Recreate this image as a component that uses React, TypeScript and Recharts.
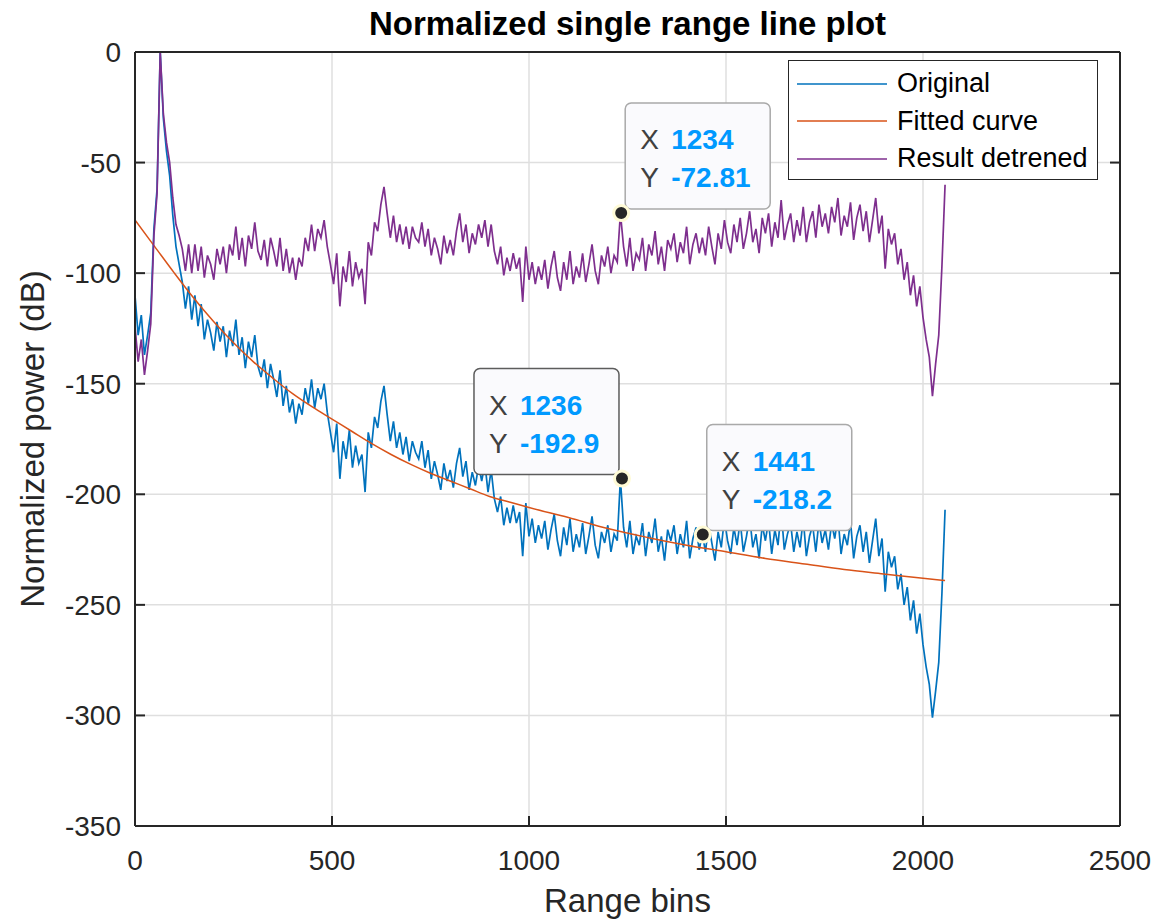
import React from 'react'
import {
  LineChart, Line, XAxis, YAxis, CartesianGrid, ReferenceDot, Legend,
} from 'recharts'

const FONT = "'Liberation Sans', Arial, Helvetica, sans-serif"
const INK = '#262626'

// one sample every 8 range bins, 0 … 2056
const BIN_STEP = 8

const originalDb = [
  -110, -128, -119, -137, -128, -118, -80, -62, 0, -30,
  -45, -56, -74, -88, -96, -104, -116, -106, -121, -110,
  -124, -114, -130, -121, -127, -135, -122, -131, -124, -138,
  -126, -133, -121, -137, -129, -143, -131, -138, -128, -142,
  -147, -139, -152, -141, -148, -156, -144, -160, -151, -163,
  -157, -168, -159, -164, -152, -159, -148, -161, -152, -157,
  -150, -163, -172, -181, -168, -193, -176, -184, -171, -188,
  -178, -186, -182, -199, -172, -179, -165, -170, -158, -151,
  -164, -176, -167, -179, -172, -182, -174, -185, -176, -181,
  -184, -176, -188, -180, -193, -185, -191, -198, -186, -194,
  -189, -197, -186, -179, -192, -185, -198, -190, -196, -187,
  -194, -186, -199, -189, -202, -208, -201, -214, -206, -213,
  -205, -213, -208, -228, -204, -219, -211, -222, -214, -220,
  -212, -225, -216, -209, -221, -228, -215, -223, -211, -226,
  -218, -224, -213, -227, -219, -210, -223, -229, -217, -222,
  -214, -226, -218, -221, -192.9, -215, -224, -212, -227, -219,
  -223, -213, -228, -217, -222, -211, -226, -219, -230, -216,
  -221, -214, -227, -218, -224, -212, -229, -220, -215, -225,
  -218.2, -226, -213, -222, -230, -217, -224, -211, -221, -227,
  -215, -223, -212, -226, -219, -210, -224, -218, -229, -214,
  -221, -212, -227, -216, -223, -207, -225, -218, -213, -226,
  -217, -224, -211, -228, -219, -214, -226, -212, -222, -216,
  -225, -213, -220, -210, -227, -218, -223, -212, -229, -219,
  -214, -226, -217, -231, -221, -211, -228, -220, -244, -226,
  -233, -228, -243, -236, -250, -242, -257, -248, -263, -254,
  -268, -278, -286, -301, -289, -276, -245, -207,
]

const detrendedDb = [
  -124, -140, -130, -146, -135, -123, -83, -64, 0, -28,
  -41, -50, -66, -78, -83, -89, -99, -87, -100, -87,
  -99, -88, -102, -92, -96, -103, -89, -96, -88, -100,
  -87, -92, -79, -94, -84, -97, -83, -89, -77, -90,
  -94, -85, -97, -84, -90, -97, -84, -99, -89, -100,
  -93, -103, -93, -97, -84, -90, -78, -90, -80, -84,
  -76, -88, -96, -105, -91, -115, -97, -104, -90, -106,
  -95, -102, -98, -114, -86, -92, -77, -81, -69, -61,
  -73, -84, -74, -86, -78, -87, -79, -89, -79, -84,
  -86, -77, -88, -80, -92, -84, -89, -96, -83, -91,
  -85, -92, -81, -73, -86, -78, -91, -82, -87, -78,
  -84, -76, -88, -78, -90, -96, -88, -101, -93, -99,
  -91, -98, -93, -113, -88, -103, -95, -105, -97, -103,
  -94, -107, -97, -90, -102, -108, -95, -103, -90, -105,
  -97, -102, -91, -104, -96, -87, -99, -105, -92, -97,
  -88, -100, -92, -95, -72.81, -88, -97, -84, -99, -91,
  -94, -84, -99, -87, -92, -81, -96, -88, -99, -85,
  -89, -82, -95, -86, -91, -79, -96, -87, -82, -91,
  -84, -92, -79, -88, -96, -82, -89, -76, -86, -91,
  -78, -86, -75, -89, -82, -72, -86, -80, -91, -75,
  -82, -73, -88, -77, -84, -67, -85, -78, -73, -86,
  -76, -83, -70, -86, -77, -72, -84, -69, -79, -73,
  -82, -70, -77, -66, -83, -74, -79, -68, -85, -75,
  -69, -81, -72, -86, -76, -66, -82, -74, -98, -80,
  -87, -82, -96, -89, -103, -95, -110, -101, -115, -106,
  -120, -130, -138, -155.6, -141, -128, -97, -60,
]

const fittedBins = [
  0, 50, 100, 150, 200, 250, 300, 350, 400, 450, 500, 550, 600, 650, 700, 750,
  800, 850, 900, 950, 1000, 1100, 1200, 1300, 1400, 1500, 1600, 1700, 1800, 1900, 2000, 2056,
]
const fittedDb = [
  -76, -88, -100, -111.5, -122, -131.5, -140, -147.5, -154.5, -160.5, -166, -171.5, -177, -182, -186.5, -190.5,
  -194, -197.5, -201, -203.5, -206, -210.5, -215.5, -219.5, -223, -226, -229, -231.5, -234, -236, -238, -239,
]

const xTicks = [0, 500, 1000, 1500, 2000, 2500]
const yTicks = [-350, -300, -250, -200, -150, -100, -50, 0]

const tipBins = [1234, 1236, 1441]
const tipDb = [-72.81, -192.9, -218.2]
const tipSide = ['right', 'left', 'right']
const tipEdge = ['#a9a9a9', '#5c5c5c', '#a9a9a9']

const series = [
  { name: 'Original', color: '#0072BD' },
  { name: 'Fitted curve', color: '#D95319' },
  { name: 'Result detrened', color: '#7E2F8E' },
]

const originalData = originalDb.map((y, i) => ({ x: i * BIN_STEP, y }))
const detrendedData = detrendedDb.map((y, i) => ({ x: i * BIN_STEP, y }))
const fittedData = fittedBins.map((x, i) => ({ x, y: fittedDb[i] }))

const frame = { stroke: INK, strokeWidth: 2 }
const noTick = () => <g />

function Datatip({ cx, cy, bin, db, side, edge }: any) {
  const w = 145
  const h = 106
  const left = side === 'left' ? cx - 3 - w : cx + 4
  const top = cy - 4 - h
  const txt = { fontSize: 28, fontFamily: FONT }
  return (
    <g>
      <rect x={left} y={top} width={w} height={h} rx={6} fill="#fafafd" stroke={edge} strokeWidth={1.5} />
      <text x={left + 15} y={top + 46} fill="#404040" {...txt}>X</text>
      <text x={left + 46} y={top + 46} fill="#0099FF" fontWeight="bold" {...txt}>{String(bin)}</text>
      <text x={left + 15} y={top + 84} fill="#404040" {...txt}>Y</text>
      <text x={left + 46} y={top + 84} fill="#0099FF" fontWeight="bold" {...txt}>{String(db)}</text>
      <circle cx={cx} cy={cy} r={7.5} fill={INK} stroke="#fffbd6" strokeWidth={3} />
    </g>
  )
}

function LegendBox() {
  return (
    <div style={{
      boxSizing: 'border-box', width: 310, height: 120, border: `1.5px solid ${INK}`,
      background: '#fff', paddingTop: 4, fontFamily: FONT,
    }}>
      {series.map(s => (
        <div key={s.name} style={{ display: 'flex', alignItems: 'center', height: 37.5 }}>
          <svg width={100} height={6} style={{ flex: 'none' }}>
            <line x1={8} y1={3} x2={98} y2={3} stroke={s.color} strokeWidth={1.5} />
          </svg>
          <span style={{ fontSize: 27, color: '#000', marginLeft: 8, whiteSpace: 'nowrap', lineHeight: '37.5px' }}>
            {s.name}
          </span>
        </div>
      ))}
    </div>
  )
}

const yTitle = ({ viewBox }: any) => {
  const vb = viewBox || { x: 0, y: 52, width: 135, height: 774 }
  return (
    <text
      transform={`translate(${vb.x + 44},${vb.y + vb.height / 2}) rotate(-90)`}
      textAnchor="middle" fontSize={33} fill={INK} fontFamily={FONT}
    >
      Normalized power (dB)
    </text>
  )
}

export default function App() {
  return (
    <div style={{ position: 'absolute', left: 0, top: 0, width: 1174, height: 919, background: '#fff' }}>
      <LineChart width={1174} height={919} margin={{ top: 51, right: 53, bottom: 53, left: 0 }} style={{ fontFamily: FONT }}>
        <CartesianGrid stroke="#dfdfdf" strokeWidth={1.5} />
        <XAxis
          dataKey="x" type="number" domain={[0, 2500]} ticks={xTicks} interval={0} allowDataOverflow
          height={40} tickSize={-10} tickMargin={34} axisLine={frame} tickLine={frame}
          tick={{ fontSize: 28, fill: INK, fontFamily: FONT }}
          label={{ value: 'Range bins', position: 'bottom', offset: 23, fontSize: 33, fill: INK, fontFamily: FONT }}
        />
        <XAxis
          xAxisId="top" orientation="top" type="number" domain={[0, 2500]} ticks={xTicks} interval={0} allowDataOverflow
          height={1} tickSize={-10} axisLine={frame} tickLine={frame} tick={noTick}
          label={{ value: 'Normalized single range line plot', position: 'top', offset: 16, fontSize: 33, fontWeight: 'bold', fill: '#000', fontFamily: FONT }}
        />
        <YAxis
          type="number" domain={[-350, 0]} ticks={yTicks} interval={0} allowDataOverflow
          width={135} tickSize={-10} tickMargin={24} axisLine={frame} tickLine={frame}
          tick={{ fontSize: 28, fill: INK, fontFamily: FONT }}
          label={{ content: yTitle }}
        />
        <YAxis
          yAxisId="right" orientation="right" type="number" domain={[-350, 0]} ticks={yTicks} interval={0} allowDataOverflow
          width={1} tickSize={-10} axisLine={frame} tickLine={frame} tick={noTick}
        />
        <Line data={originalData} dataKey="y" name={series[0].name} type="linear" stroke={series[0].color}
          strokeWidth={1.7} dot={false} activeDot={false} isAnimationActive={false} />
        <Line data={fittedData} dataKey="y" name={series[1].name} type="monotone" stroke={series[1].color}
          strokeWidth={1.5} dot={false} activeDot={false} isAnimationActive={false} />
        <Line data={detrendedData} dataKey="y" name={series[2].name} type="linear" stroke={series[2].color}
          strokeWidth={1.7} dot={false} activeDot={false} isAnimationActive={false} />
        {tipBins.map((b, i) => (
          <ReferenceDot
            key={b} x={b} y={tipDb[i]} r={7.5}
            shape={(p: any) => <Datatip cx={p.cx} cy={p.cy} bin={b} db={tipDb[i]} side={tipSide[i]} edge={tipEdge[i]} />}
          />
        ))}
        <Legend
          layout="vertical" align="center" verticalAlign="middle"
          wrapperStyle={{ top: 60, left: 788, width: 310, height: 120 }}
          content={() => <LegendBox />}
        />
      </LineChart>
    </div>
  )
}
